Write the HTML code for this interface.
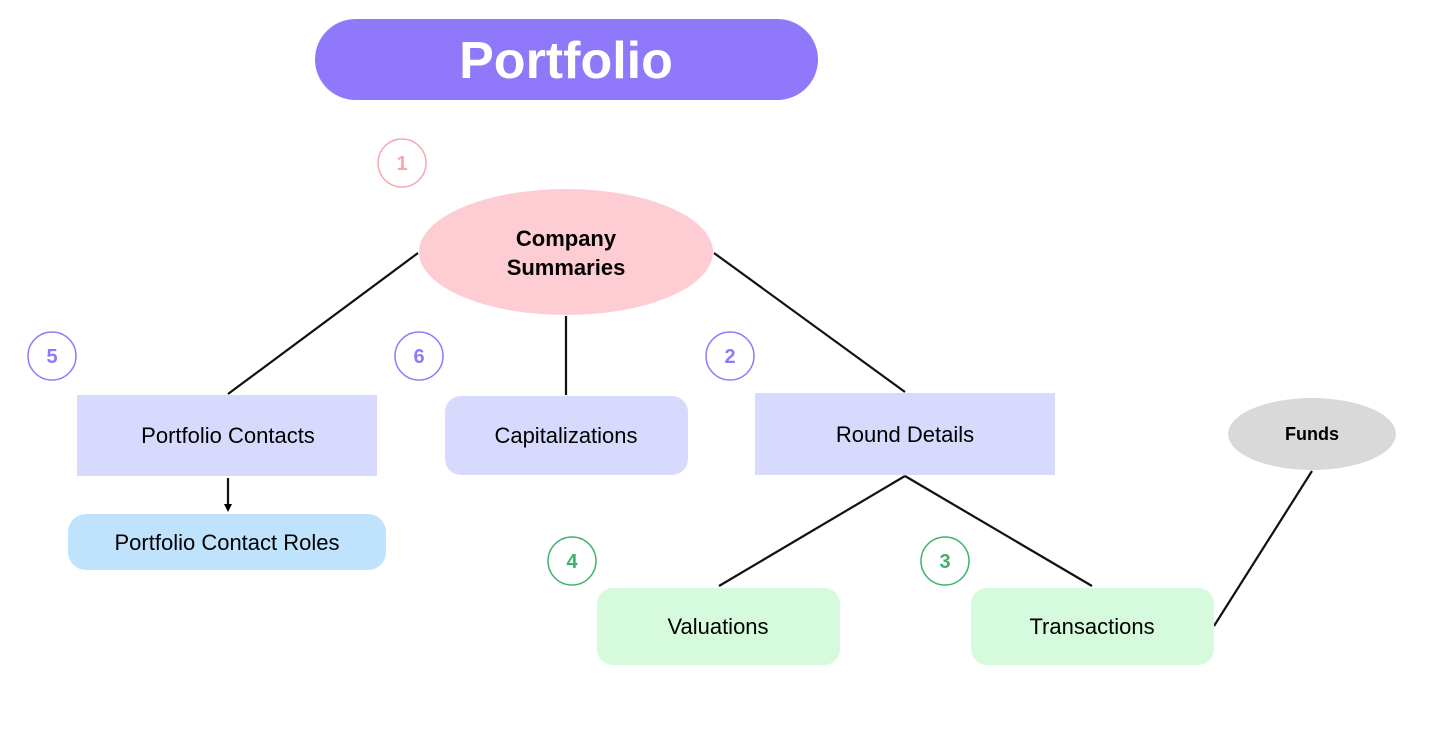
<!DOCTYPE html>
<html><head><meta charset="utf-8"><style>
body{margin:0;background:#fff;width:1429px;height:729px;overflow:hidden}
svg text{font-family:"Liberation Sans",sans-serif}
</style></head><body>
<svg width="1429" height="729" viewBox="0 0 1429 729">
<defs><marker id="a" markerWidth="8" markerHeight="8" refX="4" refY="4" orient="auto" markerUnits="userSpaceOnUse"><path d="M0,0 L8,4 L0,8 z" fill="#000"/></marker></defs>
<rect x="315" y="19" width="503" height="81" rx="40.5" fill="#8f78fa"/>
<text x="566" y="78" text-anchor="middle" font-size="52" font-weight="bold" fill="#fff">Portfolio</text>
<g stroke="#111" stroke-width="2.2" fill="none">
<line x1="418" y1="253" x2="228" y2="394"/>
<line x1="566" y1="316" x2="566" y2="395"/>
<line x1="714" y1="253" x2="905" y2="392"/>
<line x1="905" y1="476" x2="719" y2="586"/>
<line x1="905" y1="476" x2="1092" y2="586"/>
<line x1="1214" y1="626" x2="1312" y2="471"/>
<line x1="228" y1="478" x2="228" y2="508" marker-end="url(#a)"/>
</g>
<ellipse cx="566" cy="252" rx="147" ry="63" fill="#fecdd3"/>
<text x="566" y="246" text-anchor="middle" font-size="22" font-weight="bold">Company</text>
<text x="566" y="275" text-anchor="middle" font-size="22" font-weight="bold">Summaries</text>
<ellipse cx="1312" cy="434" rx="84" ry="36" fill="#d9d9d9"/>
<text x="1312" y="440" text-anchor="middle" font-size="18" font-weight="bold">Funds</text>
<g font-size="22" text-anchor="middle">
<rect x="77" y="395" width="300" height="81" fill="#d8dafd"/>
<text x="228" y="443">Portfolio Contacts</text>
<rect x="445" y="396" width="243" height="79" rx="16" fill="#d8dafd"/>
<text x="566" y="443">Capitalizations</text>
<rect x="755" y="393" width="300" height="82" fill="#d8dafd"/>
<text x="905" y="442">Round Details</text>
<rect x="68" y="514" width="318" height="56" rx="18" fill="#bfe3fd"/>
<text x="227" y="550">Portfolio Contact Roles</text>
<rect x="597" y="588" width="243" height="77" rx="16" fill="#d5fbdc"/>
<text x="718" y="634">Valuations</text>
<rect x="971" y="588" width="243" height="77" rx="16" fill="#d5fbdc"/>
<text x="1092" y="634">Transactions</text>
</g>
<g font-size="20" font-weight="bold" text-anchor="middle" fill="#fff" stroke-width="1.5">
<circle cx="402" cy="163" r="24" stroke="#f7a6b0"/><text x="402" y="170" fill="#f7a6b0" stroke="none">1</text>
<circle cx="52" cy="356" r="24" stroke="#8f78fa"/><text x="52" y="363" fill="#8f78fa" stroke="none">5</text>
<circle cx="419" cy="356" r="24" stroke="#8f78fa"/><text x="419" y="363" fill="#8f78fa" stroke="none">6</text>
<circle cx="730" cy="356" r="24" stroke="#8f78fa"/><text x="730" y="363" fill="#8f78fa" stroke="none">2</text>
<circle cx="572" cy="561" r="24" stroke="#3cb36a"/><text x="572" y="568" fill="#3cb36a" stroke="none">4</text>
<circle cx="945" cy="561" r="24" stroke="#3cb36a"/><text x="945" y="568" fill="#3cb36a" stroke="none">3</text>
</g>
</svg>
</body></html>
